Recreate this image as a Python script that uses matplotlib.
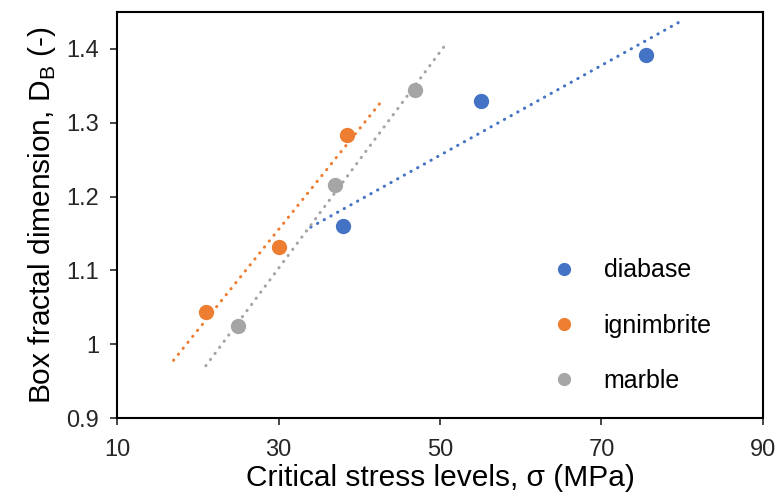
import numpy as np
import matplotlib
matplotlib.use('Agg')
import matplotlib.pyplot as plt

plt.rcParams['font.family'] = ['Liberation Sans', 'DejaVu Sans']

# donnees
rocks = ['diabase', 'ignimbrite', 'marble']
colors = ['#4472C4', '#ED7D31', '#A5A5A5']
stress_diabase = [38.0, 55.1, 75.5]
db_diabase = [1.160, 1.329, 1.392]
stress_ignimbrite = [21.0, 30.0, 38.5]
db_ignimbrite = [1.044, 1.132, 1.283]
stress_marble = [25.0, 37.0, 46.9]
db_marble = [1.025, 1.215, 1.345]

series = [(stress_diabase, db_diabase),
          (stress_ignimbrite, db_ignimbrite),
          (stress_marble, db_marble)]

fig = plt.figure(figsize=(7.76, 4.98), dpi=100)
ax = fig.add_axes([0.1508, 0.1606, 0.8324, 0.8153])

for (x, y), name, c in zip(series, rocks, colors):
    x = np.array(x)
    y = np.array(y)
    # tendance lineaire avec prevision +/- 4
    a, b = np.polyfit(x, y, 1)
    xt = np.array([x.min() - 4, x.max() + 4])
    ax.plot(xt, a * xt + b, color=c, lw=2.2, linestyle=(0, (0.1, 2.4)),
            dash_capstyle='round', zorder=2)
    ax.plot(x, y, 'o', color=c, markersize=10, label=name, zorder=3,
            linestyle='none')

ax.set_xlim(10, 90)
ax.set_ylim(0.9, 1.45)
ax.set_xticks([10, 30, 50, 70, 90])
ax.set_yticks([0.9, 1.0, 1.1, 1.2, 1.3, 1.4])
ax.set_yticklabels(['0.9', '1', '1.1', '1.2', '1.3', '1.4'])
ax.tick_params(labelsize=17, length=5, width=1.2, pad=8, colors='#262626')
ax.tick_params(axis='x', pad=10)
for s in ax.spines.values():
    s.set_linewidth(1.5)
    s.set_color('black')

ax.set_xlabel('Critical stress levels, σ (MPa)', fontsize=21.5, labelpad=2)
ax.set_ylabel('Box fractal dimension, D$_\\mathregular{B}$ (-)', fontsize=21.5, labelpad=6)

ax.legend(loc='upper left', bbox_to_anchor=(0.672, 0.393), frameon=False,
          borderpad=0, borderaxespad=0,
          fontsize=18, markerscale=0.85, handletextpad=1.1, labelspacing=1.25,
          handlelength=1.0)

fig.savefig('out.png', dpi=100)
